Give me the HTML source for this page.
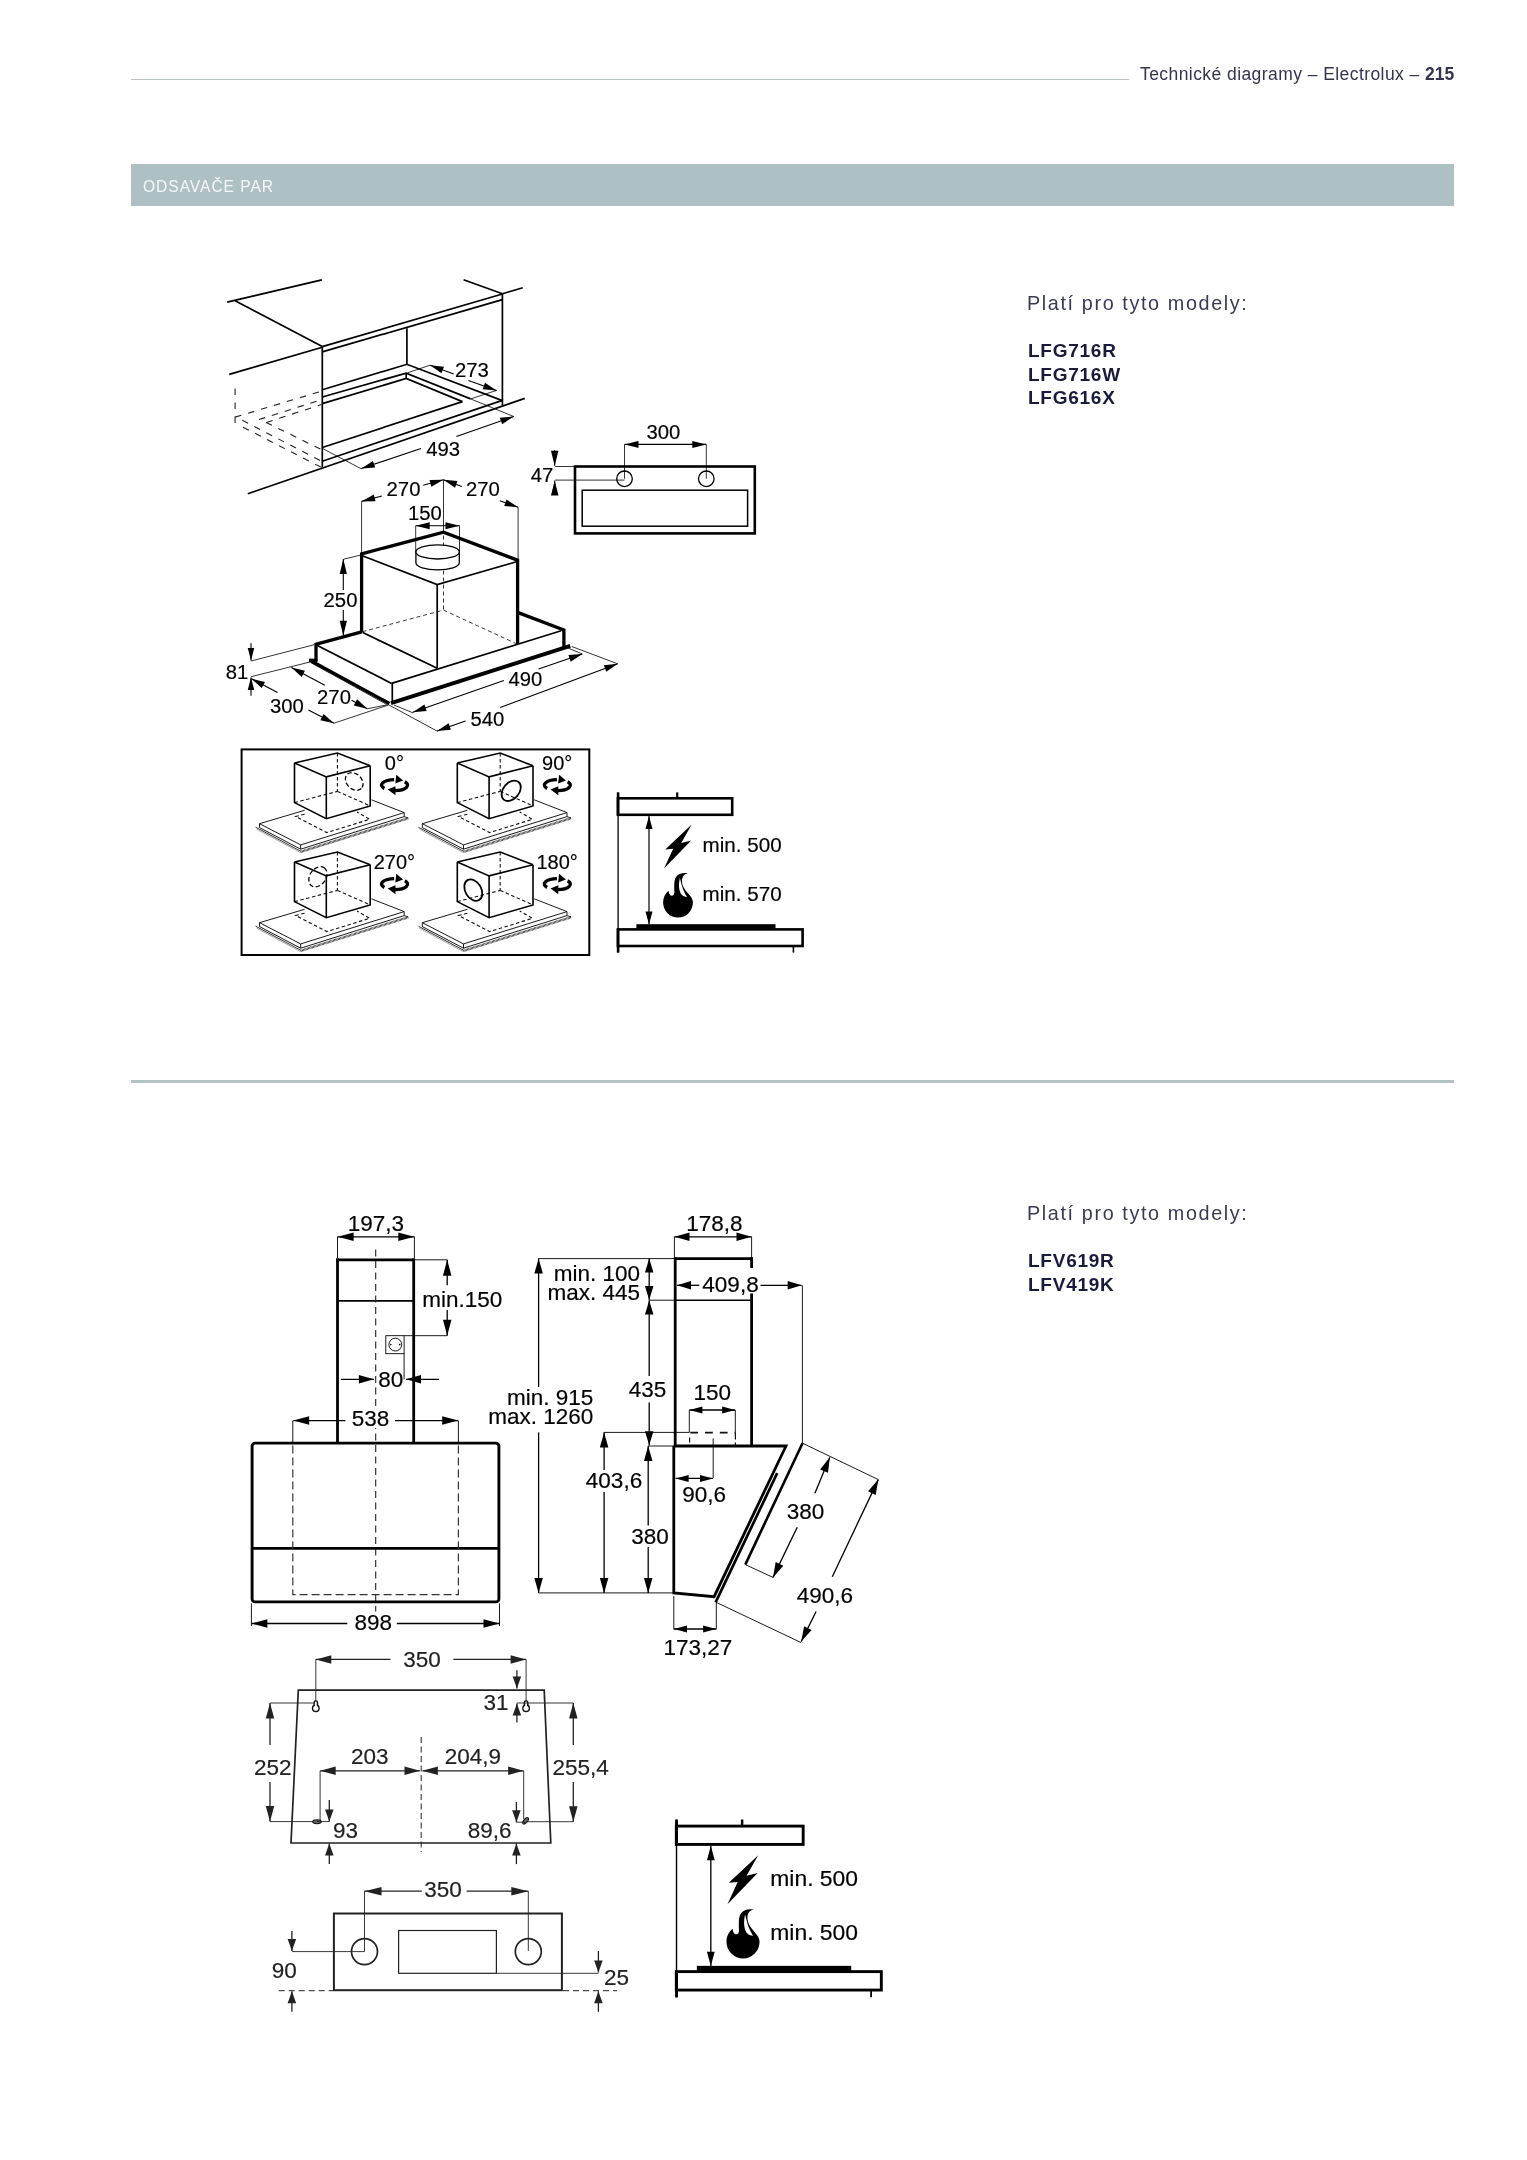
<!DOCTYPE html>
<html><head><meta charset="utf-8">
<style>
html,body{margin:0;padding:0;background:#fff;}
body{width:1527px;height:2160px;position:relative;overflow:hidden;font-family:"Liberation Sans",sans-serif;}
.a{position:absolute;white-space:nowrap;will-change:transform;}
#hdrline{position:absolute;left:131px;top:78.7px;width:998px;height:1.4px;background:#bcc4c5;}
#hdr{position:absolute;right:73px;top:64px;font-size:17.5px;letter-spacing:0.43px;color:#34344f;line-height:20px;}
#hdr b{font-weight:bold;letter-spacing:0;}
#banner{position:absolute;left:131px;top:164px;width:1323px;height:42px;background:#afc0c5;}
#banner span{position:absolute;left:12px;top:14px;font-size:15.6px;letter-spacing:0.95px;color:#f4f7f8;line-height:17px;}
#sep{position:absolute;left:131px;top:1080.1px;width:1323px;height:2.6px;background:#b3c2c3;}
.pl{font-size:19.8px;letter-spacing:1.62px;color:#3a3a56;line-height:22px;}
.md{font-size:19px;font-weight:bold;color:#1a1a3c;line-height:23.7px;letter-spacing:0.75px;}
svg{position:absolute;left:0;top:0;will-change:transform;}
</style></head><body>
<div id="hdrline"></div>
<div id="hdr" class="a">Technické diagramy – Electrolux – <b>215</b></div>
<div id="banner"><span class="a">ODSAVAČE PAR</span></div>
<div class="a pl" style="left:1027px;top:292px;">Platí pro tyto modely:</div>
<div class="a md" style="left:1028px;top:339px;">LFG716R<br>LFG716W<br>LFG616X</div>
<div id="sep"></div>
<div class="a pl" style="left:1027px;top:1202px;">Platí pro tyto modely:</div>
<div class="a md" style="left:1028px;top:1249px;">LFV619R<br>LFV419K</div>
<svg width="1527" height="2160" viewBox="0 0 1527 2160" font-family="Liberation Sans, sans-serif">
<line x1="227.2" y1="302.1" x2="321.9" y2="279.8" stroke="#000" stroke-width="1.7" stroke-linecap="butt"/>
<line x1="235.1" y1="300.8" x2="322.3" y2="346.6" stroke="#000" stroke-width="1.7" stroke-linecap="butt"/>
<line x1="322.3" y1="346.6" x2="322.3" y2="467.4" stroke="#000" stroke-width="1.7" stroke-linecap="butt"/>
<line x1="229.2" y1="374.4" x2="322.3" y2="347.3" stroke="#000" stroke-width="1.7" stroke-linecap="butt"/>
<line x1="322.3" y1="346.6" x2="502.4" y2="294" stroke="#000" stroke-width="1.7" stroke-linecap="butt"/>
<line x1="322.3" y1="351.9" x2="502.4" y2="299.6" stroke="#000" stroke-width="1.7" stroke-linecap="butt"/>
<line x1="463.6" y1="279.8" x2="502.4" y2="293.8" stroke="#000" stroke-width="1.7" stroke-linecap="butt"/>
<line x1="502.4" y1="293.8" x2="522.8" y2="287.7" stroke="#000" stroke-width="1.7" stroke-linecap="butt"/>
<line x1="502.4" y1="293.8" x2="502.4" y2="405.6" stroke="#000" stroke-width="1.7" stroke-linecap="butt"/>
<line x1="406.9" y1="328.3" x2="406.9" y2="364.3" stroke="#000" stroke-width="1.7" stroke-linecap="butt"/>
<polyline points="322.3,389.8 406.9,364.3 502.4,400.6" fill="none" stroke="#000" stroke-width="1.7" stroke-linejoin="miter"/>
<polyline points="322.3,397 406.2,373.1 470.6,398.9" fill="none" stroke="#000" stroke-width="1.7" stroke-linejoin="miter"/>
<polyline points="322.3,403.6 406.2,378.5 462.4,401.6" fill="none" stroke="#000" stroke-width="1.7" stroke-linejoin="miter"/>
<line x1="406.2" y1="373.1" x2="406.2" y2="378.5" stroke="#000" stroke-width="1.7" stroke-linecap="butt"/>
<line x1="322.3" y1="447.5" x2="462.4" y2="401.6" stroke="#000" stroke-width="1.7" stroke-linecap="butt"/>
<line x1="322.3" y1="461.2" x2="502.4" y2="400.4" stroke="#000" stroke-width="1.7" stroke-linecap="butt"/>
<line x1="247.8" y1="493.8" x2="524.8" y2="398.4" stroke="#000" stroke-width="1.7" stroke-linecap="butt"/>
<line x1="235.1" y1="388.6" x2="235.1" y2="423.4" stroke="#222" stroke-width="1.1" stroke-dasharray="6.5 7.5" stroke-linecap="butt"/>
<line x1="235.1" y1="417.1" x2="321.5" y2="391.2" stroke="#222" stroke-width="1.1" stroke-dasharray="6.5 7" stroke-linecap="butt"/>
<line x1="258.9" y1="419.6" x2="321.5" y2="399.7" stroke="#222" stroke-width="1.1" stroke-dasharray="6.5 7" stroke-linecap="butt"/>
<line x1="266.4" y1="422.5" x2="321.5" y2="404.5" stroke="#222" stroke-width="1.1" stroke-dasharray="6.5 7" stroke-linecap="butt"/>
<line x1="242.3" y1="420.3" x2="321.5" y2="461.2" stroke="#222" stroke-width="1.1" stroke-dasharray="6.5 7" stroke-linecap="butt"/>
<line x1="243" y1="427.2" x2="321.5" y2="467.4" stroke="#222" stroke-width="1.1" stroke-dasharray="6.5 7" stroke-linecap="butt"/>
<line x1="266.1" y1="422.5" x2="321.5" y2="449.6" stroke="#222" stroke-width="1.1" stroke-dasharray="6.5 7" stroke-linecap="butt"/>
<line x1="407.5" y1="372.8" x2="430.1" y2="365.2" stroke="#000" stroke-width="0.8" stroke-linecap="butt"/>
<line x1="430.1" y1="365.2" x2="453.7" y2="374.1" stroke="#000" stroke-width="1.1" stroke-linecap="butt"/>
<polygon points="430.1,365.2 443.97,366.69 441.5,373.24" fill="#000"/>
<line x1="468.4" y1="380.5" x2="496.6" y2="390.4" stroke="#000" stroke-width="1.1" stroke-linecap="butt"/>
<polygon points="496.6,390.4 482.7,389.23 485.02,382.63" fill="#000"/>
<line x1="496.6" y1="390.4" x2="470.6" y2="398.9" stroke="#000" stroke-width="0.8" stroke-linecap="butt"/>
<line x1="470.6" y1="398.9" x2="513.7" y2="416.5" stroke="#000" stroke-width="0.8" stroke-linecap="butt"/>
<text x="471.8" y="377" font-size="20.3" text-anchor="middle" fill="#000" stroke="#000" stroke-width="0.18">273</text>
<line x1="322.3" y1="448.4" x2="361.3" y2="468.8" stroke="#000" stroke-width="0.8" stroke-linecap="butt"/>
<line x1="420.9" y1="448.4" x2="361.3" y2="468.6" stroke="#000" stroke-width="1.1" stroke-linecap="butt"/>
<polygon points="361.3,468.6 372.96,460.95 375.21,467.58" fill="#000"/>
<line x1="456.4" y1="436.5" x2="513.7" y2="416.5" stroke="#000" stroke-width="1.1" stroke-linecap="butt"/>
<polygon points="513.7,416.5 502.11,424.25 499.8,417.64" fill="#000"/>
<text x="443.2" y="456" font-size="20.3" text-anchor="middle" fill="#000" stroke="#000" stroke-width="0.18">493</text>
<polyline points="361.6,553.8 443.5,532.2 518.1,560.4" fill="none" stroke="#000" stroke-width="3.3" stroke-linejoin="miter"/>
<line x1="361.6" y1="552.5" x2="361.6" y2="632.5" stroke="#000" stroke-width="3.3" stroke-linecap="butt"/>
<line x1="517.6" y1="559" x2="517.6" y2="644" stroke="#000" stroke-width="3.3" stroke-linecap="butt"/>
<line x1="437.2" y1="584.6" x2="437.2" y2="668.3" stroke="#000" stroke-width="1.7" stroke-linecap="butt"/>
<polyline points="362.3,555.8 437.2,584.6 516.5,561.7" fill="none" stroke="#000" stroke-width="1.7" stroke-linejoin="miter"/>
<line x1="362.8" y1="632.6" x2="437.2" y2="668.3" stroke="#000" stroke-width="1.7" stroke-linecap="butt"/>
<line x1="362.3" y1="631.7" x2="443.5" y2="610.1" stroke="#222" stroke-width="0.9" stroke-dasharray="4 3" stroke-linecap="butt"/>
<line x1="443.5" y1="610.1" x2="516" y2="643.5" stroke="#222" stroke-width="0.9" stroke-dasharray="4 3" stroke-linecap="butt"/>
<line x1="443.5" y1="535.5" x2="443.5" y2="610.1" stroke="#222" stroke-width="0.9" stroke-dasharray="4 3" stroke-linecap="butt"/>
<path d="M415.9,551.9 L415.9,562.8 A21.7,7.1 0 0 0 459.3,562.8 L459.3,551.9 Z" fill="#fff" stroke="#000" stroke-width="1.3"/>
<ellipse cx="437.6" cy="551.9" rx="21.7" ry="7.1" fill="#fff" stroke="#000" stroke-width="1.3"/>
<line x1="315.6" y1="644.3" x2="361.7" y2="631.8" stroke="#000" stroke-width="3.3" stroke-linecap="butt"/>
<line x1="316" y1="643" x2="316" y2="661" stroke="#000" stroke-width="3.3" stroke-linecap="butt"/>
<line x1="316.9" y1="645.3" x2="391.6" y2="683.4" stroke="#000" stroke-width="1.7" stroke-linecap="butt"/>
<line x1="392.3" y1="683.4" x2="392.3" y2="703" stroke="#000" stroke-width="1.7" stroke-linecap="butt"/>
<line x1="391.6" y1="683.4" x2="561.2" y2="630.7" stroke="#000" stroke-width="1.7" stroke-linecap="butt"/>
<line x1="518.2" y1="612.6" x2="563.9" y2="630" stroke="#000" stroke-width="3.3" stroke-linecap="butt"/>
<line x1="563.9" y1="628.7" x2="563.9" y2="647" stroke="#000" stroke-width="3.3" stroke-linecap="butt"/>
<line x1="309.8" y1="660.3" x2="389.4" y2="703.5" stroke="#000" stroke-width="3.3" stroke-linecap="butt"/>
<line x1="309" y1="660.3" x2="317.4" y2="660.3" stroke="#000" stroke-width="3.3" stroke-linecap="butt"/>
<line x1="310.8" y1="662.6" x2="388.4" y2="705.4" stroke="#000" stroke-width="0.8" stroke-linecap="butt"/>
<line x1="391" y1="703.2" x2="570.2" y2="645.9" stroke="#000" stroke-width="3.9" stroke-linecap="butt"/>
<line x1="415.7" y1="525.7" x2="415.7" y2="551.9" stroke="#000" stroke-width="0.8" stroke-linecap="butt"/>
<line x1="459.5" y1="525.7" x2="459.5" y2="551.9" stroke="#000" stroke-width="0.8" stroke-linecap="butt"/>
<line x1="415.7" y1="525.7" x2="459.5" y2="525.7" stroke="#000" stroke-width="1.1" stroke-linecap="butt"/>
<polygon points="415.7,525.7 429.7,522.2 429.7,529.2" fill="#000"/>
<polygon points="459.5,525.7 445.5,529.2 445.5,522.2" fill="#000"/>
<line x1="443.5" y1="479.8" x2="443.5" y2="532.2" stroke="#000" stroke-width="0.8" stroke-linecap="butt"/>
<text x="424.8" y="520.4" font-size="20.3" text-anchor="middle" fill="#000" stroke="#000" stroke-width="0.18">150</text>
<line x1="361.6" y1="501.4" x2="361.6" y2="553.8" stroke="#000" stroke-width="0.8" stroke-linecap="butt"/>
<line x1="361.6" y1="501.4" x2="381.9" y2="496" stroke="#000" stroke-width="1.1" stroke-linecap="butt"/>
<polygon points="361.6,501.4 373.75,494.55 375.55,501.31" fill="#000"/>
<line x1="423.2" y1="485.2" x2="443.5" y2="479.8" stroke="#000" stroke-width="1.1" stroke-linecap="butt"/>
<polygon points="443.5,479.8 431.35,486.65 429.55,479.89" fill="#000"/>
<text x="403.5" y="495.5" font-size="20.3" text-anchor="middle" fill="#000" stroke="#000" stroke-width="0.18">270</text>
<line x1="443.5" y1="479.8" x2="461.8" y2="486.4" stroke="#000" stroke-width="1.1" stroke-linecap="butt"/>
<polygon points="443.5,479.8 457.39,481.09 455.01,487.67" fill="#000"/>
<line x1="499.8" y1="500.8" x2="518.1" y2="507.3" stroke="#000" stroke-width="1.1" stroke-linecap="butt"/>
<polygon points="518.1,507.3 504.21,506.08 506.55,499.48" fill="#000"/>
<line x1="518.1" y1="507.3" x2="518.1" y2="560.4" stroke="#000" stroke-width="0.8" stroke-linecap="butt"/>
<text x="482.8" y="495.5" font-size="20.3" text-anchor="middle" fill="#000" stroke="#000" stroke-width="0.18">270</text>
<line x1="343.9" y1="559.1" x2="361.6" y2="554.9" stroke="#000" stroke-width="0.8" stroke-linecap="butt"/>
<line x1="343.3" y1="559" x2="343.3" y2="590" stroke="#000" stroke-width="1.1" stroke-linecap="butt"/>
<polygon points="343.3,559 346.9,574 339.7,574" fill="#000"/>
<line x1="343.3" y1="610" x2="343.3" y2="635.7" stroke="#000" stroke-width="1.1" stroke-linecap="butt"/>
<polygon points="343.3,635.7 339.7,620.7 346.9,620.7" fill="#000"/>
<text x="340.5" y="607.3" font-size="20.3" text-anchor="middle" fill="#000" stroke="#000" stroke-width="0.18">250</text>
<line x1="251" y1="661" x2="314.3" y2="644.7" stroke="#000" stroke-width="0.8" stroke-linecap="butt"/>
<line x1="251" y1="676.7" x2="310.4" y2="661.9" stroke="#000" stroke-width="0.8" stroke-linecap="butt"/>
<line x1="251" y1="643.3" x2="251" y2="660.4" stroke="#000" stroke-width="1.1" stroke-linecap="butt"/>
<polygon points="251,660.4 247.75,647.9 254.25,647.9" fill="#000"/>
<line x1="251" y1="695.7" x2="251" y2="677.4" stroke="#000" stroke-width="1.1" stroke-linecap="butt"/>
<polygon points="251,677.4 254.25,689.9 247.75,689.9" fill="#000"/>
<text x="237" y="678.7" font-size="20.3" text-anchor="middle" fill="#000" stroke="#000" stroke-width="0.18">81</text>
<line x1="251.4" y1="678.7" x2="277.6" y2="692.5" stroke="#000" stroke-width="1.1" stroke-linecap="butt"/>
<polygon points="251.4,678.7 264.98,681.89 261.71,688.09" fill="#000"/>
<line x1="308.4" y1="710.1" x2="334" y2="723.2" stroke="#000" stroke-width="1.1" stroke-linecap="butt"/>
<polygon points="334,723.2 320.39,720.17 323.58,713.93" fill="#000"/>
<line x1="334" y1="723.2" x2="388.4" y2="705" stroke="#000" stroke-width="0.8" stroke-linecap="butt"/>
<text x="286.8" y="712.8" font-size="20.3" text-anchor="middle" fill="#000" stroke="#000" stroke-width="0.18">300</text>
<line x1="291.4" y1="667.6" x2="324.8" y2="685.3" stroke="#000" stroke-width="1.1" stroke-linecap="butt"/>
<polygon points="291.4,667.6 304.97,670.83 301.69,677.01" fill="#000"/>
<line x1="351.6" y1="700.3" x2="367.3" y2="708.8" stroke="#000" stroke-width="1.1" stroke-linecap="butt"/>
<polygon points="367.3,708.8 353.76,705.45 357.09,699.29" fill="#000"/>
<line x1="367.3" y1="708.8" x2="386.4" y2="705" stroke="#000" stroke-width="0.8" stroke-linecap="butt"/>
<text x="334" y="703.6" font-size="20.3" text-anchor="middle" fill="#000" stroke="#000" stroke-width="0.18">270</text>
<line x1="538.6" y1="669.1" x2="582.3" y2="654" stroke="#000" stroke-width="1.1" stroke-linecap="butt"/>
<polygon points="582.3,654 570.68,661.72 568.4,655.1" fill="#000"/>
<line x1="503.9" y1="680.4" x2="412.8" y2="712.2" stroke="#000" stroke-width="1.1" stroke-linecap="butt"/>
<polygon points="412.8,712.2 424.39,704.45 426.7,711.06" fill="#000"/>
<line x1="568" y1="648" x2="582.3" y2="654" stroke="#000" stroke-width="0.8" stroke-linecap="butt"/>
<line x1="394" y1="705" x2="413" y2="712.9" stroke="#000" stroke-width="0.8" stroke-linecap="butt"/>
<text x="525.4" y="686.4" font-size="20.3" text-anchor="middle" fill="#000" stroke="#000" stroke-width="0.18">490</text>
<line x1="500.2" y1="707.5" x2="617.7" y2="663.8" stroke="#000" stroke-width="1.1" stroke-linecap="butt"/>
<polygon points="617.7,663.8 606.27,671.79 603.83,665.23" fill="#000"/>
<line x1="465.5" y1="721" x2="437" y2="731" stroke="#000" stroke-width="1.1" stroke-linecap="butt"/>
<polygon points="437,731 448.58,723.23 450.9,729.83" fill="#000"/>
<line x1="571.7" y1="646.5" x2="617.7" y2="663.8" stroke="#000" stroke-width="0.8" stroke-linecap="butt"/>
<line x1="389" y1="705" x2="437.5" y2="731.3" stroke="#000" stroke-width="0.8" stroke-linecap="butt"/>
<text x="487.4" y="726.3" font-size="20.3" text-anchor="middle" fill="#000" stroke="#000" stroke-width="0.18">540</text>
<rect x="575" y="466.5" width="179.8" height="66.9" fill="none" stroke="#000" stroke-width="2.6"/>
<rect x="582.2" y="490.2" width="165.4" height="36" fill="none" stroke="#000" stroke-width="1.5"/>
<circle cx="624.5" cy="478.8" r="7.8" fill="none" stroke="#000" stroke-width="1.3"/>
<circle cx="706.3" cy="478.8" r="7.8" fill="none" stroke="#000" stroke-width="1.3"/>
<line x1="624.5" y1="444.4" x2="624.5" y2="478.8" stroke="#000" stroke-width="0.8" stroke-linecap="butt"/>
<line x1="706.3" y1="444.4" x2="706.3" y2="478.8" stroke="#000" stroke-width="0.8" stroke-linecap="butt"/>
<line x1="624.5" y1="444.4" x2="706.3" y2="444.4" stroke="#000" stroke-width="1.2" stroke-linecap="butt"/>
<polygon points="624.5,444.4 638.5,440.9 638.5,447.9" fill="#000"/>
<polygon points="706.3,444.4 692.3,447.9 692.3,440.9" fill="#000"/>
<text x="663.3" y="438.7" font-size="20.3" text-anchor="middle" fill="#000" stroke="#000" stroke-width="0.18">300</text>
<line x1="555.2" y1="466.5" x2="574" y2="466.5" stroke="#000" stroke-width="0.8" stroke-linecap="butt"/>
<line x1="555.2" y1="480.1" x2="624.5" y2="480.1" stroke="#000" stroke-width="0.8" stroke-linecap="butt"/>
<line x1="554.7" y1="450.1" x2="554.7" y2="465.7" stroke="#000" stroke-width="1.1" stroke-linecap="butt"/>
<polygon points="554.7,465.7 550.95,450.7 558.45,450.7" fill="#000"/>
<line x1="554.7" y1="494.3" x2="554.7" y2="480.4" stroke="#000" stroke-width="1.1" stroke-linecap="butt"/>
<polygon points="554.7,480.4 558.45,495.4 550.95,495.4" fill="#000"/>
<text x="542.1" y="482" font-size="20.3" text-anchor="middle" fill="#000" stroke="#000" stroke-width="0.18">47</text>
<rect x="241.6" y="749.4" width="347.7" height="205.6" fill="none" stroke="#000" stroke-width="2.0"/>
<polyline points="259.5,823.7 304.6,810.3" fill="none" stroke="#000" stroke-width="0.9" stroke-linejoin="miter"/>
<polyline points="371.4,799.8 404.2,812.6" fill="none" stroke="#000" stroke-width="0.9" stroke-linejoin="miter"/>
<polyline points="259.5,823.7 300.7,844.9 404.2,812.6" fill="none" stroke="#000" stroke-width="0.9" stroke-linejoin="miter"/>
<line x1="259.5" y1="823.7" x2="259.5" y2="827.6" stroke="#000" stroke-width="0.9" stroke-linecap="butt"/>
<line x1="300.7" y1="844.9" x2="300.7" y2="849.2" stroke="#000" stroke-width="0.9" stroke-linecap="butt"/>
<line x1="404.2" y1="812.6" x2="404.2" y2="816.6" stroke="#000" stroke-width="0.9" stroke-linecap="butt"/>
<polyline points="259.5,827.6 300.7,849.2 404.2,816.6" fill="none" stroke="#000" stroke-width="0.9" stroke-linejoin="miter"/>
<polyline points="255.6,827.2 300.7,851.2" fill="none" stroke="#000" stroke-width="0.8" stroke-linejoin="miter"/>
<polyline points="256.6,829.2 300.7,852.6" fill="none" stroke="#666" stroke-width="0.6" stroke-linejoin="miter"/>
<polyline points="300.7,851.8 408.3,818.2" fill="none" stroke="#333" stroke-width="2.4" stroke-dasharray="0.8 0.5" stroke-linejoin="miter"/>
<polyline points="404.2,816.6 408.3,818" fill="none" stroke="#000" stroke-width="0.8" stroke-linejoin="miter"/>
<polyline points="304.6,814.2 295.6,816.5 326.8,832.6 369.7,819.3 356.9,812" fill="none" stroke="#111" stroke-width="1.1" stroke-dasharray="3.5 2.5" stroke-linejoin="miter"/>
<polygon points="294.5,763.0 337.4,753.0 370.2,765.8 370.2,805.9 326.3,818.7 294.5,802.6" fill="#fff"/>
<line x1="337.4" y1="753" x2="337.4" y2="791.4" stroke="#111" stroke-width="1.1" stroke-dasharray="3.5 2.5" stroke-linecap="butt"/>
<line x1="294.5" y1="802.6" x2="337.4" y2="791.4" stroke="#111" stroke-width="1.1" stroke-dasharray="3.5 2.5" stroke-linecap="butt"/>
<line x1="337.4" y1="791.4" x2="370.2" y2="805.9" stroke="#111" stroke-width="1.1" stroke-dasharray="3.5 2.5" stroke-linecap="butt"/>
<ellipse cx="354.2" cy="781.5" rx="10" ry="7.5" fill="none" stroke="#000" stroke-width="1.3" stroke-dasharray="4.5 2.5" transform="rotate(45 354.2 781.5)"/>
<polyline points="294.5,763 337.4,753 370.2,765.8" fill="none" stroke="#000" stroke-width="1.6" stroke-linejoin="miter"/>
<polyline points="294.5,763 326.3,776.9 370.2,765.8" fill="none" stroke="#000" stroke-width="1.6" stroke-linejoin="miter"/>
<polyline points="294.5,763 294.5,802.6 326.3,818.7 370.2,805.9 370.2,765.8" fill="none" stroke="#000" stroke-width="1.6" stroke-linejoin="miter"/>
<line x1="326.3" y1="776.9" x2="326.3" y2="818.7" stroke="#000" stroke-width="1.6" stroke-linecap="butt"/>
<path d="M384.36,788.49 A13.0 5.5 0 0 1 394.15,779.60" fill="none" stroke="#000" stroke-width="3.3"/>
<path d="M404.84,781.71 A13.0 5.5 0 0 1 395.05,790.60" fill="none" stroke="#000" stroke-width="3.3"/>
<polygon points="403.1,780.4 396.3,774.7 395.3,783.6" fill="#000" stroke="none" stroke-width="0" stroke-linejoin="miter"/>
<polygon points="387.7,789.4 395.5,786.2 395.5,795.3" fill="#000" stroke="none" stroke-width="0" stroke-linejoin="miter"/>
<text x="394.4" y="770" font-size="20" text-anchor="middle" fill="#000" stroke="#000" stroke-width="0.18">0°</text>
<polyline points="422.3,823.7 467.4,810.3" fill="none" stroke="#000" stroke-width="0.9" stroke-linejoin="miter"/>
<polyline points="534.2,799.8 567,812.6" fill="none" stroke="#000" stroke-width="0.9" stroke-linejoin="miter"/>
<polyline points="422.3,823.7 463.5,844.9 567,812.6" fill="none" stroke="#000" stroke-width="0.9" stroke-linejoin="miter"/>
<line x1="422.3" y1="823.7" x2="422.3" y2="827.6" stroke="#000" stroke-width="0.9" stroke-linecap="butt"/>
<line x1="463.5" y1="844.9" x2="463.5" y2="849.2" stroke="#000" stroke-width="0.9" stroke-linecap="butt"/>
<line x1="567" y1="812.6" x2="567" y2="816.6" stroke="#000" stroke-width="0.9" stroke-linecap="butt"/>
<polyline points="422.3,827.6 463.5,849.2 567,816.6" fill="none" stroke="#000" stroke-width="0.9" stroke-linejoin="miter"/>
<polyline points="418.4,827.2 463.5,851.2" fill="none" stroke="#000" stroke-width="0.8" stroke-linejoin="miter"/>
<polyline points="419.4,829.2 463.5,852.6" fill="none" stroke="#666" stroke-width="0.6" stroke-linejoin="miter"/>
<polyline points="463.5,851.8 571.1,818.2" fill="none" stroke="#333" stroke-width="2.4" stroke-dasharray="0.8 0.5" stroke-linejoin="miter"/>
<polyline points="567,816.6 571.1,818" fill="none" stroke="#000" stroke-width="0.8" stroke-linejoin="miter"/>
<polyline points="467.4,814.2 458.4,816.5 489.6,832.6 532.5,819.3 519.7,812" fill="none" stroke="#111" stroke-width="1.1" stroke-dasharray="3.5 2.5" stroke-linejoin="miter"/>
<polygon points="457.3,763.0 500.2,753.0 533.0,765.8 533.0,805.9 489.1,818.7 457.3,802.6" fill="#fff"/>
<line x1="500.2" y1="753" x2="500.2" y2="791.4" stroke="#111" stroke-width="1.1" stroke-dasharray="3.5 2.5" stroke-linecap="butt"/>
<line x1="457.3" y1="802.6" x2="500.2" y2="791.4" stroke="#111" stroke-width="1.1" stroke-dasharray="3.5 2.5" stroke-linecap="butt"/>
<line x1="500.2" y1="791.4" x2="533" y2="805.9" stroke="#111" stroke-width="1.1" stroke-dasharray="3.5 2.5" stroke-linecap="butt"/>
<ellipse cx="511.2" cy="790.8" rx="11.5" ry="8" fill="none" stroke="#000" stroke-width="1.8" transform="rotate(-50 511.2 790.8)"/>
<polyline points="457.3,763 500.2,753 533,765.8" fill="none" stroke="#000" stroke-width="1.6" stroke-linejoin="miter"/>
<polyline points="457.3,763 489.1,776.9 533,765.8" fill="none" stroke="#000" stroke-width="1.6" stroke-linejoin="miter"/>
<polyline points="457.3,763 457.3,802.6 489.1,818.7 533,805.9 533,765.8" fill="none" stroke="#000" stroke-width="1.6" stroke-linejoin="miter"/>
<line x1="489.1" y1="776.9" x2="489.1" y2="818.7" stroke="#000" stroke-width="1.6" stroke-linecap="butt"/>
<path d="M547.16,788.49 A13.0 5.5 0 0 1 556.95,779.60" fill="none" stroke="#000" stroke-width="3.3"/>
<path d="M567.64,781.71 A13.0 5.5 0 0 1 557.85,790.60" fill="none" stroke="#000" stroke-width="3.3"/>
<polygon points="565.9,780.4 559.1,774.7 558.1,783.6" fill="#000" stroke="none" stroke-width="0" stroke-linejoin="miter"/>
<polygon points="550.5,789.4 558.3,786.2 558.3,795.3" fill="#000" stroke="none" stroke-width="0" stroke-linejoin="miter"/>
<text x="557.2" y="770" font-size="20" text-anchor="middle" fill="#000" stroke="#000" stroke-width="0.18">90°</text>
<polyline points="259.5,922.7 304.6,909.3" fill="none" stroke="#000" stroke-width="0.9" stroke-linejoin="miter"/>
<polyline points="371.4,898.8 404.2,911.6" fill="none" stroke="#000" stroke-width="0.9" stroke-linejoin="miter"/>
<polyline points="259.5,922.7 300.7,943.9 404.2,911.6" fill="none" stroke="#000" stroke-width="0.9" stroke-linejoin="miter"/>
<line x1="259.5" y1="922.7" x2="259.5" y2="926.6" stroke="#000" stroke-width="0.9" stroke-linecap="butt"/>
<line x1="300.7" y1="943.9" x2="300.7" y2="948.2" stroke="#000" stroke-width="0.9" stroke-linecap="butt"/>
<line x1="404.2" y1="911.6" x2="404.2" y2="915.6" stroke="#000" stroke-width="0.9" stroke-linecap="butt"/>
<polyline points="259.5,926.6 300.7,948.2 404.2,915.6" fill="none" stroke="#000" stroke-width="0.9" stroke-linejoin="miter"/>
<polyline points="255.6,926.2 300.7,950.2" fill="none" stroke="#000" stroke-width="0.8" stroke-linejoin="miter"/>
<polyline points="256.6,928.2 300.7,951.6" fill="none" stroke="#666" stroke-width="0.6" stroke-linejoin="miter"/>
<polyline points="300.7,950.8 408.3,917.2" fill="none" stroke="#333" stroke-width="2.4" stroke-dasharray="0.8 0.5" stroke-linejoin="miter"/>
<polyline points="404.2,915.6 408.3,917" fill="none" stroke="#000" stroke-width="0.8" stroke-linejoin="miter"/>
<polyline points="304.6,913.2 295.6,915.5 326.8,931.6 369.7,918.3 356.9,911" fill="none" stroke="#111" stroke-width="1.1" stroke-dasharray="3.5 2.5" stroke-linejoin="miter"/>
<polygon points="294.5,862.0 337.4,852.0 370.2,864.8 370.2,904.9 326.3,917.7 294.5,901.6" fill="#fff"/>
<line x1="337.4" y1="852" x2="337.4" y2="890.4" stroke="#111" stroke-width="1.1" stroke-dasharray="3.5 2.5" stroke-linecap="butt"/>
<line x1="294.5" y1="901.6" x2="337.4" y2="890.4" stroke="#111" stroke-width="1.1" stroke-dasharray="3.5 2.5" stroke-linecap="butt"/>
<line x1="337.4" y1="890.4" x2="370.2" y2="904.9" stroke="#111" stroke-width="1.1" stroke-dasharray="3.5 2.5" stroke-linecap="butt"/>
<ellipse cx="317.9" cy="876.8" rx="11" ry="8" fill="none" stroke="#000" stroke-width="1.3" stroke-dasharray="4.5 2.5" transform="rotate(-55 317.9 876.8)"/>
<polyline points="294.5,862 337.4,852 370.2,864.8" fill="none" stroke="#000" stroke-width="1.6" stroke-linejoin="miter"/>
<polyline points="294.5,862 326.3,875.9 370.2,864.8" fill="none" stroke="#000" stroke-width="1.6" stroke-linejoin="miter"/>
<polyline points="294.5,862 294.5,901.6 326.3,917.7 370.2,904.9 370.2,864.8" fill="none" stroke="#000" stroke-width="1.6" stroke-linejoin="miter"/>
<line x1="326.3" y1="875.9" x2="326.3" y2="917.7" stroke="#000" stroke-width="1.6" stroke-linecap="butt"/>
<path d="M384.36,887.49 A13.0 5.5 0 0 1 394.15,878.60" fill="none" stroke="#000" stroke-width="3.3"/>
<path d="M404.84,880.71 A13.0 5.5 0 0 1 395.05,889.60" fill="none" stroke="#000" stroke-width="3.3"/>
<polygon points="403.1,879.4 396.3,873.7 395.3,882.6" fill="#000" stroke="none" stroke-width="0" stroke-linejoin="miter"/>
<polygon points="387.7,888.4 395.5,885.2 395.5,894.3" fill="#000" stroke="none" stroke-width="0" stroke-linejoin="miter"/>
<text x="394.4" y="869" font-size="20" text-anchor="middle" fill="#000" stroke="#000" stroke-width="0.18">270°</text>
<polyline points="422.3,922.7 467.4,909.3" fill="none" stroke="#000" stroke-width="0.9" stroke-linejoin="miter"/>
<polyline points="534.2,898.8 567,911.6" fill="none" stroke="#000" stroke-width="0.9" stroke-linejoin="miter"/>
<polyline points="422.3,922.7 463.5,943.9 567,911.6" fill="none" stroke="#000" stroke-width="0.9" stroke-linejoin="miter"/>
<line x1="422.3" y1="922.7" x2="422.3" y2="926.6" stroke="#000" stroke-width="0.9" stroke-linecap="butt"/>
<line x1="463.5" y1="943.9" x2="463.5" y2="948.2" stroke="#000" stroke-width="0.9" stroke-linecap="butt"/>
<line x1="567" y1="911.6" x2="567" y2="915.6" stroke="#000" stroke-width="0.9" stroke-linecap="butt"/>
<polyline points="422.3,926.6 463.5,948.2 567,915.6" fill="none" stroke="#000" stroke-width="0.9" stroke-linejoin="miter"/>
<polyline points="418.4,926.2 463.5,950.2" fill="none" stroke="#000" stroke-width="0.8" stroke-linejoin="miter"/>
<polyline points="419.4,928.2 463.5,951.6" fill="none" stroke="#666" stroke-width="0.6" stroke-linejoin="miter"/>
<polyline points="463.5,950.8 571.1,917.2" fill="none" stroke="#333" stroke-width="2.4" stroke-dasharray="0.8 0.5" stroke-linejoin="miter"/>
<polyline points="567,915.6 571.1,917" fill="none" stroke="#000" stroke-width="0.8" stroke-linejoin="miter"/>
<polyline points="467.4,913.2 458.4,915.5 489.6,931.6 532.5,918.3 519.7,911" fill="none" stroke="#111" stroke-width="1.1" stroke-dasharray="3.5 2.5" stroke-linejoin="miter"/>
<polygon points="457.3,862.0 500.2,852.0 533.0,864.8 533.0,904.9 489.1,917.7 457.3,901.6" fill="#fff"/>
<line x1="500.2" y1="852" x2="500.2" y2="890.4" stroke="#111" stroke-width="1.1" stroke-dasharray="3.5 2.5" stroke-linecap="butt"/>
<line x1="457.3" y1="901.6" x2="500.2" y2="890.4" stroke="#111" stroke-width="1.1" stroke-dasharray="3.5 2.5" stroke-linecap="butt"/>
<line x1="500.2" y1="890.4" x2="533" y2="904.9" stroke="#111" stroke-width="1.1" stroke-dasharray="3.5 2.5" stroke-linecap="butt"/>
<ellipse cx="473.3" cy="890.1" rx="11.5" ry="8" fill="none" stroke="#000" stroke-width="1.8" transform="rotate(60 473.3 890.1)"/>
<polyline points="457.3,862 500.2,852 533,864.8" fill="none" stroke="#000" stroke-width="1.6" stroke-linejoin="miter"/>
<polyline points="457.3,862 489.1,875.9 533,864.8" fill="none" stroke="#000" stroke-width="1.6" stroke-linejoin="miter"/>
<polyline points="457.3,862 457.3,901.6 489.1,917.7 533,904.9 533,864.8" fill="none" stroke="#000" stroke-width="1.6" stroke-linejoin="miter"/>
<line x1="489.1" y1="875.9" x2="489.1" y2="917.7" stroke="#000" stroke-width="1.6" stroke-linecap="butt"/>
<path d="M547.16,887.49 A13.0 5.5 0 0 1 556.95,878.60" fill="none" stroke="#000" stroke-width="3.3"/>
<path d="M567.64,880.71 A13.0 5.5 0 0 1 557.85,889.60" fill="none" stroke="#000" stroke-width="3.3"/>
<polygon points="565.9,879.4 559.1,873.7 558.1,882.6" fill="#000" stroke="none" stroke-width="0" stroke-linejoin="miter"/>
<polygon points="550.5,888.4 558.3,885.2 558.3,894.3" fill="#000" stroke="none" stroke-width="0" stroke-linejoin="miter"/>
<text x="557.2" y="869" font-size="20" text-anchor="middle" fill="#000" stroke="#000" stroke-width="0.18">180°</text>
<g>
<rect x="617.9" y="798.3" width="114.3" height="16.5" fill="none" stroke="#000" stroke-width="2.6"/>
<line x1="618.1" y1="792.4" x2="618.1" y2="952.6" stroke="#000" stroke-width="1.3" stroke-linecap="butt"/>
<line x1="618.1" y1="792.4" x2="618.1" y2="815" stroke="#000" stroke-width="2.6" stroke-linecap="butt"/>
<line x1="677.2" y1="792.4" x2="677.2" y2="798.3" stroke="#000" stroke-width="2.2" stroke-linecap="butt"/>
<line x1="649" y1="816" x2="649" y2="924.4" stroke="#000" stroke-width="1.2" stroke-linecap="butt"/>
<polygon points="649,816 652.5,829 645.5,829" fill="#000"/>
<polygon points="649,924.4 645.5,911.4 652.5,911.4" fill="#000"/>
<rect x="636.4" y="924.2" width="139.1" height="4.6" fill="#000" stroke="#000" stroke-width="0"/>
<rect x="617.9" y="929.4" width="184.7" height="16.6" fill="none" stroke="#000" stroke-width="2.6"/>
<line x1="618.1" y1="929" x2="618.1" y2="952.6" stroke="#000" stroke-width="2.6" stroke-linecap="butt"/>
<line x1="793.4" y1="946" x2="793.4" y2="952.6" stroke="#000" stroke-width="1.6" stroke-linecap="butt"/>
<path d="M691.7,824.6 L665.2,849.4 L673.2,848.7 L664,868.6 L691.2,840.6 L681.2,843.1 Z" fill="#000"/>
<path d="M663.1,902.6 C663.1,897.5 665.3,893.5 668.6,890.8 C669,893.5 669.8,895.8 671.5,895.8 C673.3,895.8 674.4,894.5 674.4,892.5 C674.2,886 673.8,880 676.2,876.8 C678.5,873.8 682.5,872.6 687.8,873.3 C684,874.2 681.8,877 682,881.8 C682.3,887 686,891 689.5,895 C691.8,897.7 692.9,900 692.9,902.6 A14.9,14.9 0 0 1 663.1,902.6 Z" fill="#000"/>
<path d="M679.9,878 C678.5,884 678.6,890 681.2,894.3 C683,896.3 685,897 687,897 C685.5,894.5 684,891.5 682.8,888.5 C681.5,885 680.8,881.5 679.9,878 Z" fill="#fff"/>
<text x="702.6" y="852.2" font-size="20.6" text-anchor="start" fill="#000" stroke="#000" stroke-width="0.18">min. 500</text>
<text x="702.6" y="901" font-size="20.6" text-anchor="start" fill="#000" stroke="#000" stroke-width="0.18">min. 570</text>
</g>
<g transform="translate(676.3 1826.1) scale(1.11) translate(-617.9 -798.3)">
<rect x="617.9" y="798.3" width="114.3" height="16.5" fill="none" stroke="#000" stroke-width="2.6"/>
<line x1="618.1" y1="792.4" x2="618.1" y2="952.6" stroke="#000" stroke-width="1.3" stroke-linecap="butt"/>
<line x1="618.1" y1="792.4" x2="618.1" y2="815" stroke="#000" stroke-width="2.6" stroke-linecap="butt"/>
<line x1="677.2" y1="792.4" x2="677.2" y2="798.3" stroke="#000" stroke-width="2.2" stroke-linecap="butt"/>
<line x1="649" y1="816" x2="649" y2="924.4" stroke="#000" stroke-width="1.2" stroke-linecap="butt"/>
<polygon points="649,816 652.5,829 645.5,829" fill="#000"/>
<polygon points="649,924.4 645.5,911.4 652.5,911.4" fill="#000"/>
<rect x="636.4" y="924.2" width="139.1" height="4.6" fill="#000" stroke="#000" stroke-width="0"/>
<rect x="617.9" y="929.4" width="184.7" height="16.6" fill="none" stroke="#000" stroke-width="2.6"/>
<line x1="618.1" y1="929" x2="618.1" y2="952.6" stroke="#000" stroke-width="2.6" stroke-linecap="butt"/>
<line x1="793.4" y1="946" x2="793.4" y2="952.6" stroke="#000" stroke-width="1.6" stroke-linecap="butt"/>
<path d="M691.7,824.6 L665.2,849.4 L673.2,848.7 L664,868.6 L691.2,840.6 L681.2,843.1 Z" fill="#000"/>
<path d="M663.1,902.6 C663.1,897.5 665.3,893.5 668.6,890.8 C669,893.5 669.8,895.8 671.5,895.8 C673.3,895.8 674.4,894.5 674.4,892.5 C674.2,886 673.8,880 676.2,876.8 C678.5,873.8 682.5,872.6 687.8,873.3 C684,874.2 681.8,877 682,881.8 C682.3,887 686,891 689.5,895 C691.8,897.7 692.9,900 692.9,902.6 A14.9,14.9 0 0 1 663.1,902.6 Z" fill="#000"/>
<path d="M679.9,878 C678.5,884 678.6,890 681.2,894.3 C683,896.3 685,897 687,897 C685.5,894.5 684,891.5 682.8,888.5 C681.5,885 680.8,881.5 679.9,878 Z" fill="#fff"/>
<text x="702.6" y="852.2" font-size="20.6" text-anchor="start" fill="#000" stroke="#000" stroke-width="0.18">min. 500</text>
<text x="702.6" y="901" font-size="20.6" text-anchor="start" fill="#000" stroke="#000" stroke-width="0.18">min. 500</text>
</g>
<line x1="336.2" y1="1259.8" x2="415" y2="1259.8" stroke="#000" stroke-width="2.8" stroke-linecap="butt"/>
<line x1="337.5" y1="1258.4" x2="337.5" y2="1443" stroke="#000" stroke-width="2.8" stroke-linecap="butt"/>
<line x1="413.7" y1="1258.4" x2="413.7" y2="1443" stroke="#000" stroke-width="2.8" stroke-linecap="butt"/>
<line x1="337.5" y1="1300.9" x2="413.7" y2="1300.9" stroke="#000" stroke-width="1.6" stroke-linecap="butt"/>
<line x1="375.7" y1="1249.5" x2="375.7" y2="1611.6" stroke="#222" stroke-width="1.1" stroke-dasharray="7 4.5" stroke-linecap="butt"/>
<line x1="337.5" y1="1236.7" x2="337.5" y2="1258" stroke="#000" stroke-width="0.9" stroke-linecap="butt"/>
<line x1="414.4" y1="1236.7" x2="414.4" y2="1258" stroke="#000" stroke-width="0.9" stroke-linecap="butt"/>
<line x1="337.6" y1="1236.8" x2="414.3" y2="1236.8" stroke="#000" stroke-width="1.3" stroke-linecap="butt"/>
<polygon points="337.6,1236.8 353.6,1232.55 353.6,1241.05" fill="#000"/>
<polygon points="414.3,1236.8 398.3,1241.05 398.3,1232.55" fill="#000"/>
<text x="375.8" y="1230.5" font-size="22.5" text-anchor="middle" fill="#000" stroke="#000" stroke-width="0.18">197,3</text>
<line x1="415" y1="1259.8" x2="447.2" y2="1259.8" stroke="#000" stroke-width="0.9" stroke-linecap="butt"/>
<line x1="447.2" y1="1259.8" x2="447.2" y2="1285.3" stroke="#000" stroke-width="1.3" stroke-linecap="butt"/>
<polygon points="447.2,1259.8 451.45,1275.8 442.95,1275.8" fill="#000"/>
<line x1="447.2" y1="1310" x2="447.2" y2="1335.7" stroke="#000" stroke-width="1.3" stroke-linecap="butt"/>
<polygon points="447.2,1335.7 442.95,1319.7 451.45,1319.7" fill="#000"/>
<line x1="404.1" y1="1335.7" x2="447.2" y2="1335.7" stroke="#000" stroke-width="0.9" stroke-linecap="butt"/>
<text x="462.3" y="1307" font-size="22.5" text-anchor="middle" fill="#000" stroke="#000" stroke-width="0.18">min.150</text>
<rect x="385.8" y="1335.7" width="18.3" height="18" fill="none" stroke="#000" stroke-width="0.9"/>
<circle cx="395.3" cy="1344.6" r="6.4" fill="none" stroke="#000" stroke-width="0.9"/>
<circle cx="390.8" cy="1344.6" r="0.8" fill="#000" stroke="#000" stroke-width="0"/>
<circle cx="399.8" cy="1344.6" r="0.8" fill="#000" stroke="#000" stroke-width="0"/>
<line x1="404.1" y1="1353.7" x2="404.1" y2="1379.3" stroke="#000" stroke-width="0.9" stroke-linecap="butt"/>
<line x1="340.9" y1="1379.3" x2="373.9" y2="1379.3" stroke="#000" stroke-width="1.3" stroke-linecap="butt"/>
<polygon points="373.9,1379.3 358.9,1383.55 358.9,1375.05" fill="#000"/>
<line x1="439" y1="1379.3" x2="406" y2="1379.3" stroke="#000" stroke-width="1.3" stroke-linecap="butt"/>
<polygon points="406,1379.3 421,1375.05 421,1383.55" fill="#000"/>
<text x="390.7" y="1386.5" font-size="22.5" text-anchor="middle" fill="#000" stroke="#000" stroke-width="0.18">80</text>
<line x1="345.4" y1="1420.6" x2="293.2" y2="1420.6" stroke="#000" stroke-width="1.3" stroke-linecap="butt"/>
<polygon points="293.2,1420.6 309.2,1416.35 309.2,1424.85" fill="#000"/>
<line x1="395" y1="1420.6" x2="458.2" y2="1420.6" stroke="#000" stroke-width="1.3" stroke-linecap="butt"/>
<polygon points="458.2,1420.6 442.2,1424.85 442.2,1416.35" fill="#000"/>
<line x1="292.8" y1="1420.6" x2="292.8" y2="1443" stroke="#000" stroke-width="0.9" stroke-linecap="butt"/>
<line x1="458.4" y1="1420.6" x2="458.4" y2="1443" stroke="#000" stroke-width="0.9" stroke-linecap="butt"/>
<rect x="351" y="1408" width="39" height="20" fill="#fff" stroke="none" stroke-width="0"/>
<text x="370.6" y="1426.3" font-size="22.5" text-anchor="middle" fill="#000" stroke="#000" stroke-width="0.18">538</text>
<rect x="252.1" y="1443.1" width="246.8" height="158.8" fill="none" stroke="#000" stroke-width="2.9" rx="3"/>
<line x1="252.1" y1="1548.4" x2="498.9" y2="1548.4" stroke="#000" stroke-width="2.9" stroke-linecap="butt"/>
<polyline points="292.8,1445.5 292.8,1594.7 458.4,1594.7 458.4,1445.5" fill="none" stroke="#333" stroke-width="1.2" stroke-dasharray="8 4" stroke-linejoin="miter"/>
<line x1="251.4" y1="1603.4" x2="251.4" y2="1626" stroke="#000" stroke-width="0.9" stroke-linecap="butt"/>
<line x1="499.5" y1="1603.4" x2="499.5" y2="1626" stroke="#000" stroke-width="0.9" stroke-linecap="butt"/>
<line x1="251.4" y1="1623.5" x2="347.3" y2="1623.5" stroke="#000" stroke-width="1.3" stroke-linecap="butt"/>
<polygon points="251.4,1623.5 267.4,1619.25 267.4,1627.75" fill="#000"/>
<line x1="396.8" y1="1623.5" x2="499.5" y2="1623.5" stroke="#000" stroke-width="1.3" stroke-linecap="butt"/>
<polygon points="499.5,1623.5 483.5,1627.75 483.5,1619.25" fill="#000"/>
<text x="373.2" y="1629.6" font-size="22.5" text-anchor="middle" fill="#000" stroke="#000" stroke-width="0.18">898</text>
<line x1="674.2" y1="1258.6" x2="752.6" y2="1258.6" stroke="#000" stroke-width="2.8" stroke-linecap="butt"/>
<line x1="675.2" y1="1257.2" x2="675.2" y2="1446" stroke="#000" stroke-width="2.8" stroke-linecap="butt"/>
<line x1="751.6" y1="1257.2" x2="751.6" y2="1268" stroke="#000" stroke-width="2.8" stroke-linecap="butt"/>
<line x1="751.6" y1="1293.5" x2="751.6" y2="1446" stroke="#000" stroke-width="2.8" stroke-linecap="butt"/>
<line x1="676" y1="1300.2" x2="751.6" y2="1300.2" stroke="#000" stroke-width="1.6" stroke-linecap="butt"/>
<line x1="649.2" y1="1300.2" x2="676" y2="1300.2" stroke="#000" stroke-width="0.9" stroke-linecap="butt"/>
<line x1="538.3" y1="1258.6" x2="674.4" y2="1258.6" stroke="#000" stroke-width="0.9" stroke-linecap="butt"/>
<line x1="674.4" y1="1236.7" x2="674.4" y2="1257" stroke="#000" stroke-width="0.9" stroke-linecap="butt"/>
<line x1="751.6" y1="1236.7" x2="751.6" y2="1257" stroke="#000" stroke-width="0.9" stroke-linecap="butt"/>
<line x1="674.5" y1="1236.8" x2="751.5" y2="1236.8" stroke="#000" stroke-width="1.3" stroke-linecap="butt"/>
<polygon points="674.5,1236.8 689.5,1232.55 689.5,1241.05" fill="#000"/>
<polygon points="751.5,1236.8 736.5,1241.05 736.5,1232.55" fill="#000"/>
<text x="714.4" y="1231.2" font-size="22.5" text-anchor="middle" fill="#000" stroke="#000" stroke-width="0.18">178,8</text>
<line x1="538.6" y1="1258.6" x2="538.6" y2="1387" stroke="#000" stroke-width="1.3" stroke-linecap="butt"/>
<polygon points="538.6,1258.6 542.85,1273.6 534.35,1273.6" fill="#000"/>
<line x1="538.6" y1="1432.4" x2="538.6" y2="1592.9" stroke="#000" stroke-width="1.3" stroke-linecap="butt"/>
<polygon points="538.6,1592.9 534.35,1577.9 542.85,1577.9" fill="#000"/>
<line x1="538.6" y1="1592.9" x2="674" y2="1592.9" stroke="#000" stroke-width="0.9" stroke-linecap="butt"/>
<text x="593.3" y="1404.8" font-size="22.5" text-anchor="end" fill="#000" stroke="#000" stroke-width="0.18">min. 915</text>
<text x="593.3" y="1423.8" font-size="22.5" text-anchor="end" fill="#000" stroke="#000" stroke-width="0.18">max. 1260</text>
<line x1="649.2" y1="1258.6" x2="649.2" y2="1299.8" stroke="#000" stroke-width="1.3" stroke-linecap="butt"/>
<polygon points="649.2,1258.6 653.45,1272.6 644.95,1272.6" fill="#000"/>
<polygon points="649.2,1300 644.95,1286 653.45,1286" fill="#000"/>
<text x="640.1" y="1281.3" font-size="22.5" text-anchor="end" fill="#000" stroke="#000" stroke-width="0.18">min. 100</text>
<text x="640.1" y="1300.2" font-size="22.5" text-anchor="end" fill="#000" stroke="#000" stroke-width="0.18">max. 445</text>
<line x1="649.2" y1="1300.2" x2="649.2" y2="1375.9" stroke="#000" stroke-width="1.3" stroke-linecap="butt"/>
<polygon points="649.2,1300.6 653.45,1314.6 644.95,1314.6" fill="#000"/>
<line x1="649.2" y1="1402.6" x2="649.2" y2="1445.5" stroke="#000" stroke-width="1.3" stroke-linecap="butt"/>
<polygon points="649.2,1445.3 644.95,1431.3 653.45,1431.3" fill="#000"/>
<text x="647.5" y="1397" font-size="22.5" text-anchor="middle" fill="#000" stroke="#000" stroke-width="0.18">435</text>
<line x1="677" y1="1285.3" x2="699.3" y2="1285.3" stroke="#000" stroke-width="1.3" stroke-linecap="butt"/>
<polygon points="677,1285.3 691,1281.05 691,1289.55" fill="#000"/>
<line x1="760.5" y1="1285.3" x2="801.7" y2="1285.3" stroke="#000" stroke-width="1.3" stroke-linecap="butt"/>
<polygon points="801.7,1285.3 787.7,1289.55 787.7,1281.05" fill="#000"/>
<line x1="802.4" y1="1285.3" x2="802.4" y2="1443.5" stroke="#000" stroke-width="0.9" stroke-linecap="butt"/>
<text x="730.5" y="1292.4" font-size="22.5" text-anchor="middle" fill="#000" stroke="#000" stroke-width="0.18">409,8</text>
<line x1="689.3" y1="1410" x2="689.3" y2="1432.4" stroke="#000" stroke-width="0.9" stroke-linecap="butt"/>
<line x1="735.3" y1="1410" x2="735.3" y2="1432.4" stroke="#000" stroke-width="0.9" stroke-linecap="butt"/>
<line x1="689.4" y1="1410" x2="735.2" y2="1410" stroke="#000" stroke-width="1.3" stroke-linecap="butt"/>
<polygon points="689.4,1410 702.4,1406.5 702.4,1413.5" fill="#000"/>
<polygon points="735.2,1410 722.2,1413.5 722.2,1406.5" fill="#000"/>
<text x="712.2" y="1400.4" font-size="22.5" text-anchor="middle" fill="#000" stroke="#000" stroke-width="0.18">150</text>
<line x1="690.2" y1="1432.6" x2="735.6" y2="1432.6" stroke="#111" stroke-width="1.8" stroke-dasharray="7.8 7" stroke-linecap="butt"/>
<line x1="689.6" y1="1437.5" x2="689.6" y2="1445" stroke="#111" stroke-width="1.2" stroke-dasharray="5 3" stroke-linecap="butt"/>
<line x1="735.4" y1="1432.6" x2="735.4" y2="1445" stroke="#111" stroke-width="1.2" stroke-dasharray="7 3" stroke-linecap="butt"/>
<line x1="603.6" y1="1432.4" x2="689.3" y2="1432.4" stroke="#000" stroke-width="0.9" stroke-linecap="butt"/>
<line x1="604.1" y1="1432.4" x2="604.1" y2="1470" stroke="#000" stroke-width="1.3" stroke-linecap="butt"/>
<line x1="604.1" y1="1492" x2="604.1" y2="1592.9" stroke="#000" stroke-width="1.3" stroke-linecap="butt"/>
<polygon points="604.1,1432.4 608.35,1447.4 599.85,1447.4" fill="#000"/>
<polygon points="604.1,1592.9 599.85,1577.9 608.35,1577.9" fill="#000"/>
<line x1="604.1" y1="1470" x2="604.1" y2="1470" stroke="#000" stroke-width="0" stroke-linecap="butt"/>
<text x="614" y="1488.3" font-size="22.5" text-anchor="middle" fill="#000" stroke="#000" stroke-width="0.18">403,6</text>
<line x1="648.2" y1="1446" x2="673.8" y2="1446" stroke="#000" stroke-width="0.9" stroke-linecap="butt"/>
<line x1="648.2" y1="1446" x2="648.2" y2="1525.5" stroke="#000" stroke-width="1.3" stroke-linecap="butt"/>
<line x1="648.2" y1="1547" x2="648.2" y2="1592.9" stroke="#000" stroke-width="1.3" stroke-linecap="butt"/>
<polygon points="648.2,1446 652.45,1461 643.95,1461" fill="#000"/>
<polygon points="648.2,1592.9 643.95,1577.9 652.45,1577.9" fill="#000"/>
<text x="650" y="1544.3" font-size="22.5" text-anchor="middle" fill="#000" stroke="#000" stroke-width="0.18">380</text>
<polyline points="673.8,1446 786,1446 714.1,1596.7 673.8,1592.9 673.8,1446" fill="none" stroke="#000" stroke-width="2.8" stroke-linejoin="miter"/>
<line x1="777.2" y1="1473.1" x2="715.6" y2="1602.4" stroke="#000" stroke-width="2.7" stroke-linecap="butt"/>
<line x1="802.5" y1="1443.2" x2="745.3" y2="1564.6" stroke="#000" stroke-width="2.6" stroke-linecap="butt"/>
<line x1="713.2" y1="1438.4" x2="713.2" y2="1478" stroke="#000" stroke-width="0.9" stroke-linecap="butt"/>
<line x1="675.6" y1="1478.4" x2="713" y2="1478.4" stroke="#000" stroke-width="1.3" stroke-linecap="butt"/>
<polygon points="675.6,1478.4 688.6,1474.9 688.6,1481.9" fill="#000"/>
<polygon points="713,1478.4 700,1481.9 700,1474.9" fill="#000"/>
<text x="704.2" y="1502" font-size="22.5" text-anchor="middle" fill="#000" stroke="#000" stroke-width="0.18">90,6</text>
<line x1="745.3" y1="1564.6" x2="773" y2="1577.4" stroke="#000" stroke-width="0.9" stroke-linecap="butt"/>
<line x1="797.2" y1="1527.2" x2="773" y2="1577.4" stroke="#000" stroke-width="1.3" stroke-linecap="butt"/>
<polygon points="773,1577.4 775.69,1562.04 783.34,1565.73" fill="#000"/>
<line x1="814.9" y1="1493.3" x2="829.8" y2="1457.2" stroke="#000" stroke-width="1.3" stroke-linecap="butt"/>
<polygon points="829.8,1457.2 828.01,1472.69 820.15,1469.44" fill="#000"/>
<text x="805.5" y="1519.4" font-size="22.5" text-anchor="middle" fill="#000" stroke="#000" stroke-width="0.18">380</text>
<line x1="802.5" y1="1443.2" x2="878.3" y2="1479.6" stroke="#000" stroke-width="0.9" stroke-linecap="butt"/>
<line x1="716.3" y1="1602.4" x2="801.2" y2="1642.6" stroke="#000" stroke-width="0.9" stroke-linecap="butt"/>
<line x1="832.3" y1="1576.7" x2="878.3" y2="1479.6" stroke="#000" stroke-width="1.3" stroke-linecap="butt"/>
<polygon points="878.3,1479.6 875.72,1494.98 868.04,1491.34" fill="#000"/>
<line x1="816.1" y1="1611.5" x2="801.2" y2="1641.6" stroke="#000" stroke-width="1.3" stroke-linecap="butt"/>
<polygon points="801.2,1641.6 804.05,1626.27 811.66,1630.04" fill="#000"/>
<text x="824.9" y="1602.8" font-size="22.5" text-anchor="middle" fill="#000" stroke="#000" stroke-width="0.18">490,6</text>
<line x1="673.8" y1="1596" x2="673.8" y2="1629.5" stroke="#000" stroke-width="0.9" stroke-linecap="butt"/>
<line x1="716.3" y1="1603" x2="716.3" y2="1629.5" stroke="#000" stroke-width="0.9" stroke-linecap="butt"/>
<line x1="674" y1="1629" x2="716.1" y2="1629" stroke="#000" stroke-width="1.3" stroke-linecap="butt"/>
<polygon points="674,1629 687,1625.5 687,1632.5" fill="#000"/>
<polygon points="716.1,1629 703.1,1632.5 703.1,1625.5" fill="#000"/>
<text x="697.9" y="1655" font-size="22.5" text-anchor="middle" fill="#000" stroke="#000" stroke-width="0.18">173,27</text>
<polygon points="298.3,1690.2 544.2,1690.2 550.8,1843 291,1843" fill="none" stroke="#222" stroke-width="1.7" stroke-linejoin="miter"/>
<line x1="315.8" y1="1659.4" x2="315.8" y2="1701" stroke="#222" stroke-width="0.9" stroke-linecap="butt"/>
<line x1="526.1" y1="1659.4" x2="526.1" y2="1701" stroke="#222" stroke-width="0.9" stroke-linecap="butt"/>
<line x1="315.8" y1="1659.4" x2="390.4" y2="1659.4" stroke="#222" stroke-width="1.3" stroke-linecap="butt"/>
<polygon points="315.8,1659.4 331.3,1655.15 331.3,1663.65" fill="#222"/>
<line x1="453.4" y1="1659.4" x2="526.1" y2="1659.4" stroke="#222" stroke-width="1.3" stroke-linecap="butt"/>
<polygon points="526.1,1659.4 510.6,1663.65 510.6,1655.15" fill="#222"/>
<text x="421.9" y="1667.1" font-size="22.5" text-anchor="middle" fill="#222" stroke="#222" stroke-width="0.18">350</text>
<rect x="313.40" y="1700.2" width="4.8" height="8" rx="2.4" fill="#111"/>
<circle cx="315.8" cy="1708.3" r="3.95" fill="#111" stroke="#000" stroke-width="0"/>
<rect x="314.90" y="1701.6" width="1.8" height="6" rx="0.9" fill="#fff"/>
<circle cx="315.8" cy="1708.3" r="2.55" fill="#fff" stroke="#000" stroke-width="0"/>
<rect x="523.70" y="1700.2" width="4.8" height="8" rx="2.4" fill="#111"/>
<circle cx="526.1" cy="1708.3" r="3.95" fill="#111" stroke="#000" stroke-width="0"/>
<rect x="525.20" y="1701.6" width="1.8" height="6" rx="0.9" fill="#fff"/>
<circle cx="526.1" cy="1708.3" r="2.55" fill="#fff" stroke="#000" stroke-width="0"/>
<line x1="516.9" y1="1670.3" x2="516.9" y2="1688.5" stroke="#222" stroke-width="1.3" stroke-linecap="butt"/>
<polygon points="516.9,1688.5 512.65,1676.5 521.15,1676.5" fill="#222"/>
<line x1="516.9" y1="1722.4" x2="516.9" y2="1703.5" stroke="#222" stroke-width="1.3" stroke-linecap="butt"/>
<polygon points="516.9,1703.5 521.15,1715.5 512.65,1715.5" fill="#222"/>
<line x1="516.9" y1="1703" x2="526.1" y2="1703" stroke="#222" stroke-width="0.9" stroke-linecap="butt"/>
<text x="496" y="1710.3" font-size="22.5" text-anchor="middle" fill="#222" stroke="#222" stroke-width="0.18">31</text>
<line x1="270" y1="1703" x2="313.6" y2="1703" stroke="#222" stroke-width="0.9" stroke-linecap="butt"/>
<line x1="270" y1="1821.6" x2="317" y2="1821.6" stroke="#222" stroke-width="0.9" stroke-linecap="butt"/>
<line x1="270" y1="1703" x2="270" y2="1745" stroke="#222" stroke-width="1.3" stroke-linecap="butt"/>
<polygon points="270,1703 274.25,1718.5 265.75,1718.5" fill="#222"/>
<line x1="270" y1="1782" x2="270" y2="1821.6" stroke="#222" stroke-width="1.3" stroke-linecap="butt"/>
<polygon points="270,1821.6 265.75,1806.1 274.25,1806.1" fill="#222"/>
<text x="272.8" y="1774.5" font-size="22.5" text-anchor="middle" fill="#222" stroke="#222" stroke-width="0.18">252</text>
<line x1="526.1" y1="1703" x2="573.3" y2="1703" stroke="#222" stroke-width="0.9" stroke-linecap="butt"/>
<line x1="525.6" y1="1821.7" x2="573.3" y2="1821.7" stroke="#222" stroke-width="0.9" stroke-linecap="butt"/>
<line x1="573.3" y1="1703" x2="573.3" y2="1745" stroke="#222" stroke-width="1.3" stroke-linecap="butt"/>
<polygon points="573.3,1703 577.55,1718.5 569.05,1718.5" fill="#222"/>
<line x1="573.3" y1="1782" x2="573.3" y2="1821.7" stroke="#222" stroke-width="1.3" stroke-linecap="butt"/>
<polygon points="573.3,1821.7 569.05,1806.2 577.55,1806.2" fill="#222"/>
<text x="580.6" y="1774.5" font-size="22.5" text-anchor="middle" fill="#222" stroke="#222" stroke-width="0.18">255,4</text>
<line x1="421.2" y1="1737" x2="421.2" y2="1852" stroke="#222" stroke-width="1.0" stroke-dasharray="6 3.5" stroke-linecap="butt"/>
<line x1="320.1" y1="1770.8" x2="320.1" y2="1821" stroke="#222" stroke-width="0.9" stroke-linecap="butt"/>
<line x1="523.7" y1="1770.8" x2="523.7" y2="1819" stroke="#222" stroke-width="0.9" stroke-linecap="butt"/>
<line x1="320.2" y1="1770.8" x2="420" y2="1770.8" stroke="#222" stroke-width="1.3" stroke-linecap="butt"/>
<polygon points="320.2,1770.8 335.7,1766.55 335.7,1775.05" fill="#222"/>
<polygon points="420,1770.8 404.5,1775.05 404.5,1766.55" fill="#222"/>
<line x1="422.4" y1="1770.8" x2="523.6" y2="1770.8" stroke="#222" stroke-width="1.3" stroke-linecap="butt"/>
<polygon points="422.4,1770.8 437.9,1766.55 437.9,1775.05" fill="#222"/>
<polygon points="523.6,1770.8 508.1,1775.05 508.1,1766.55" fill="#222"/>
<text x="369.8" y="1763.6" font-size="22.5" text-anchor="middle" fill="#222" stroke="#222" stroke-width="0.18">203</text>
<text x="472.8" y="1763.6" font-size="22.5" text-anchor="middle" fill="#222" stroke="#222" stroke-width="0.18">204,9</text>
<ellipse cx="317" cy="1821.8" rx="4.3" ry="1.9" fill="#666" stroke="#111" stroke-width="1.1"/>
<ellipse cx="525.6" cy="1820.8" rx="3.9" ry="1.8" fill="#666" stroke="#111" stroke-width="1.1" transform="rotate(-50 525.6 1820.8)"/>
<line x1="317" y1="1821.6" x2="329.3" y2="1821.6" stroke="#222" stroke-width="0.9" stroke-linecap="butt"/>
<line x1="329.3" y1="1800" x2="329.3" y2="1821.6" stroke="#222" stroke-width="1.3" stroke-linecap="butt"/>
<polygon points="329.3,1821.6 325.05,1809.6 333.55,1809.6" fill="#222"/>
<line x1="329.3" y1="1864.1" x2="329.3" y2="1843.5" stroke="#222" stroke-width="1.3" stroke-linecap="butt"/>
<polygon points="329.3,1843.5 333.55,1855.5 325.05,1855.5" fill="#222"/>
<text x="345.6" y="1837.5" font-size="22.5" text-anchor="middle" fill="#222" stroke="#222" stroke-width="0.18">93</text>
<line x1="516.4" y1="1822.2" x2="525" y2="1822.2" stroke="#222" stroke-width="0.9" stroke-linecap="butt"/>
<line x1="516.4" y1="1802" x2="516.4" y2="1822.2" stroke="#222" stroke-width="1.3" stroke-linecap="butt"/>
<polygon points="516.4,1822.2 512.15,1810.2 520.65,1810.2" fill="#222"/>
<line x1="516.4" y1="1864.1" x2="516.4" y2="1843.5" stroke="#222" stroke-width="1.3" stroke-linecap="butt"/>
<polygon points="516.4,1843.5 520.65,1855.5 512.15,1855.5" fill="#222"/>
<text x="489.7" y="1837.5" font-size="22.5" text-anchor="middle" fill="#222" stroke="#222" stroke-width="0.18">89,6</text>
<rect x="333.9" y="1913.5" width="228" height="76.7" fill="none" stroke="#222" stroke-width="2.0"/>
<rect x="398.6" y="1930.5" width="97.8" height="42.8" fill="none" stroke="#222" stroke-width="1.2"/>
<circle cx="364.5" cy="1951.6" r="13" fill="none" stroke="#222" stroke-width="1.7"/>
<circle cx="528.3" cy="1951.6" r="13" fill="none" stroke="#222" stroke-width="1.7"/>
<line x1="364.5" y1="1891.2" x2="364.5" y2="1951.6" stroke="#222" stroke-width="0.9" stroke-linecap="butt"/>
<line x1="528.3" y1="1891.2" x2="528.3" y2="1951" stroke="#222" stroke-width="0.9" stroke-linecap="butt"/>
<line x1="364.5" y1="1891.2" x2="421.8" y2="1891.2" stroke="#222" stroke-width="1.3" stroke-linecap="butt"/>
<polygon points="364.5,1891.2 381.5,1886.95 381.5,1895.45" fill="#222"/>
<line x1="466.6" y1="1891.2" x2="528.3" y2="1891.2" stroke="#222" stroke-width="1.3" stroke-linecap="butt"/>
<polygon points="528.3,1891.2 511.3,1895.45 511.3,1886.95" fill="#222"/>
<text x="442.9" y="1896.9" font-size="22.5" text-anchor="middle" fill="#222" stroke="#222" stroke-width="0.18">350</text>
<line x1="291.9" y1="1951.6" x2="364.5" y2="1951.6" stroke="#222" stroke-width="0.9" stroke-linecap="butt"/>
<line x1="291.9" y1="1931" x2="291.9" y2="1950.9" stroke="#222" stroke-width="1.3" stroke-linecap="butt"/>
<polygon points="291.9,1950.9 287.65,1938.9 296.15,1938.9" fill="#222"/>
<line x1="291.9" y1="2011.8" x2="291.9" y2="1991.2" stroke="#222" stroke-width="1.3" stroke-linecap="butt"/>
<polygon points="291.9,1991.2 296.15,2003.2 287.65,2003.2" fill="#222"/>
<text x="284.3" y="1978.3" font-size="22.5" text-anchor="middle" fill="#222" stroke="#222" stroke-width="0.18">90</text>
<line x1="278.7" y1="1990.7" x2="333" y2="1990.7" stroke="#222" stroke-width="1.0" stroke-dasharray="6 4" stroke-linecap="butt"/>
<line x1="563" y1="1990.7" x2="617.1" y2="1990.7" stroke="#222" stroke-width="1.0" stroke-dasharray="6 4" stroke-linecap="butt"/>
<line x1="496.4" y1="1973.3" x2="598.4" y2="1973.3" stroke="#222" stroke-width="0.9" stroke-linecap="butt"/>
<line x1="598.4" y1="1950.9" x2="598.4" y2="1972.5" stroke="#222" stroke-width="1.3" stroke-linecap="butt"/>
<polygon points="598.4,1972.5 594.15,1960.5 602.65,1960.5" fill="#222"/>
<line x1="598.4" y1="2011.8" x2="598.4" y2="1991.2" stroke="#222" stroke-width="1.3" stroke-linecap="butt"/>
<polygon points="598.4,1991.2 602.65,2003.2 594.15,2003.2" fill="#222"/>
<text x="616.5" y="1984.5" font-size="22.5" text-anchor="middle" fill="#222" stroke="#222" stroke-width="0.18">25</text>
</svg>
</body></html>
